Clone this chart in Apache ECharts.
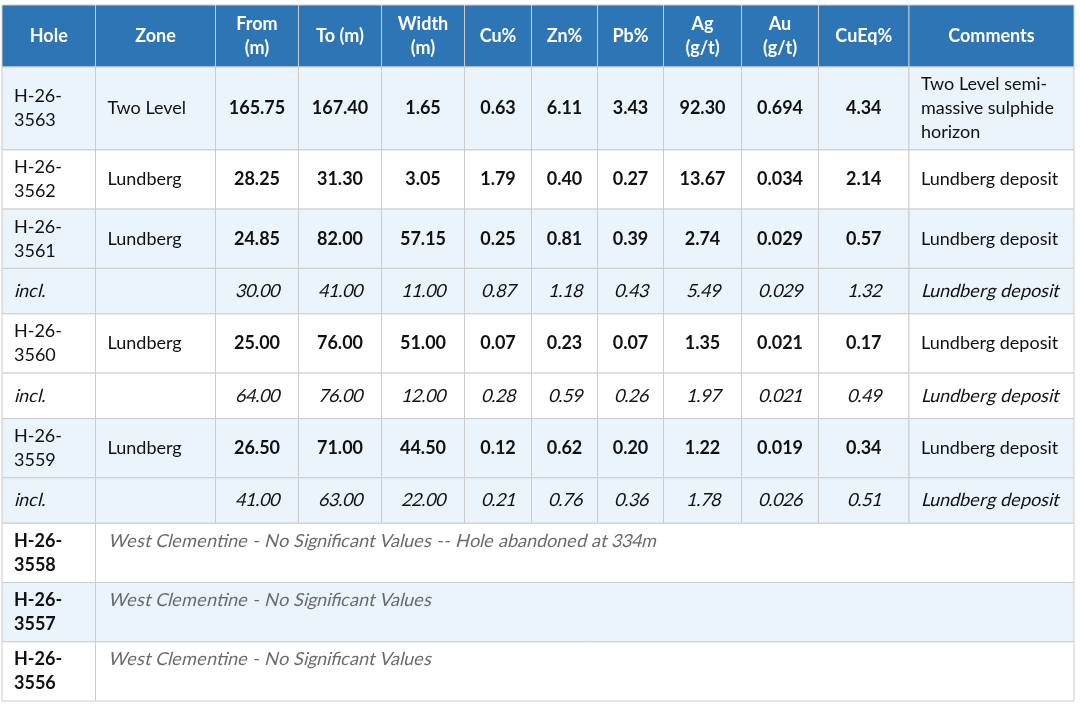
<!DOCTYPE html>
<html>
<head>
  <meta charset="utf-8" />
  <title>Drill results</title>
  <script src="https://cdn.jsdelivr.net/npm/echarts@6.0.0/dist/echarts.min.js"></script>
  <style>
    html, body { margin: 0; padding: 0; background: #fff; }
    /* upright face only, so italic text gets a slanted regular like the source */
    @font-face {
      font-family: 'LatoSlant';
      src: local('Lato Regular'), local('Lato-Regular'), local('Lato');
      font-weight: 400;
      font-style: normal;
    }
  </style>
</head>
<body>
<div id="main" style="width:1080px;height:709px;"></div>
<script type="text/javascript">
  // table content
  var headers = ['Hole', 'Zone', 'From\n(m)', 'To (m)', 'Width\n(m)', 'Cu%', 'Zn%', 'Pb%', 'Ag\n(g/t)', 'Au\n(g/t)', 'CuEq%', 'Comments'];

  var holeIds = ['H-26-3563', 'H-26-3562', 'H-26-3561', 'incl.', 'H-26-3560', 'incl.', 'H-26-3559', 'incl.'];
  var zones = ['Two Level', 'Lundberg', 'Lundberg', '', 'Lundberg', '', 'Lundberg', ''];
  var fromM = [165.75, 28.25, 24.85, 30.00, 25.00, 64.00, 26.50, 41.00];
  var toM = [167.40, 31.30, 82.00, 41.00, 76.00, 76.00, 71.00, 63.00];
  var widthM = [1.65, 3.05, 57.15, 11.00, 51.00, 12.00, 44.50, 22.00];
  var cu = [0.63, 1.79, 0.25, 0.87, 0.07, 0.28, 0.12, 0.21];
  var zn = [6.11, 0.40, 0.81, 1.18, 0.23, 0.59, 0.62, 0.76];
  var pb = [3.43, 0.27, 0.39, 0.43, 0.07, 0.26, 0.20, 0.36];
  var ag = [92.30, 13.67, 2.74, 5.49, 1.35, 1.97, 1.22, 1.78];
  var au = [0.694, 0.034, 0.029, 0.029, 0.021, 0.021, 0.019, 0.026];
  var cuEq = [4.34, 2.14, 0.57, 1.32, 0.17, 0.49, 0.34, 0.51];
  var comments = ['Two Level semi-\nmassive sulphide\nhorizon', 'Lundberg deposit', 'Lundberg deposit', 'Lundberg deposit',
    'Lundberg deposit', 'Lundberg deposit', 'Lundberg deposit', 'Lundberg deposit'];

  var nilHoles = ['H-26-3558', 'H-26-3557', 'H-26-3556'];
  var nilNotes = ['West Clementine - No Significant Values -- Hole abandoned at 334m',
    'West Clementine - No Significant Values',
    'West Clementine - No Significant Values'];

  // layout
  var colWidths = [93.5, 120, 83, 83, 83, 67, 66, 66, 78, 77, 90.5, 165];
  var headerHeight = 62;
  var heightByLines = { 1: 45.5, 2: 59.3, 3: 83 };
  var pad = 12;
  var FONT = 'Lato, "Open Sans", sans-serif';
  var FONT_IT = 'LatoSlant, Lato, "Open Sans", sans-serif';
  var BLUE = '#2e75b6';
  var SHADE = '#ebf3fb';

  var colEdges = [0];
  colWidths.forEach(function (w, i) { colEdges.push(colEdges[i] + w); });

  function splitHole(h) {
    return h.replace(/-(\d+)$/, '-\n$1');
  }
  function lines(s) {
    return s.split('\n').length;
  }

  var cells = [];
  var y = 0;

  function addCell(c0, c1, y0, y1, o) {
    o.x0 = colEdges[c0];
    o.x1 = colEdges[c1 + 1];
    o.y0 = y0;
    o.y1 = y1;
    cells.push(o);
  }

  // header row
  headers.forEach(function (h, i) {
    addCell(i, i, y, y + headerHeight, { text: h, fill: BLUE, color: '#fff', weight: 'bold', align: 'center' });
  });
  y += headerHeight;

  // intercept rows
  var group = -1;
  holeIds.forEach(function (h, r) {
    var incl = h === 'incl.';
    if (!incl) group++;
    var hole = incl ? h : splitHole(h);
    var n = Math.max(lines(hole), lines(comments[r]));
    var hgt = heightByLines[n];
    var fill = group % 2 === 0 ? SHADE : '#fff';
    var style = incl ? 'italic' : 'normal';
    var numWeight = incl ? 'normal' : 'bold';
    addCell(0, 0, y, y + hgt, { text: hole, fill: fill, color: '#111', italic: style, align: 'left' });
    addCell(1, 1, y, y + hgt, { text: zones[r], fill: fill, color: '#111', italic: style, align: 'left' });
    var nums = [fromM[r].toFixed(2), toM[r].toFixed(2), widthM[r].toFixed(2), cu[r].toFixed(2), zn[r].toFixed(2),
      pb[r].toFixed(2), ag[r].toFixed(2), au[r].toFixed(3), cuEq[r].toFixed(2)];
    nums.forEach(function (v, k) {
      addCell(k + 2, k + 2, y, y + hgt, { text: v, fill: fill, color: '#111', italic: style, weight: numWeight, align: 'center' });
    });
    addCell(11, 11, y, y + hgt, { text: comments[r], fill: fill, color: '#111', italic: style, align: 'left' });
    y += hgt;
  });

  // holes with no significant values
  nilHoles.forEach(function (h, r) {
    group++;
    var hole = splitHole(h);
    var hgt = heightByLines[lines(hole)];
    var fill = group % 2 === 0 ? SHADE : '#fff';
    addCell(0, 0, y, y + hgt, { text: hole, fill: fill, color: '#111', weight: 'bold', align: 'left' });
    addCell(1, 11, y, y + hgt, { text: nilNotes[r], fill: fill, color: '#6b6b6b', italic: 'italic', align: 'left', top: true });
    y += hgt;
  });

  var tableWidth = colEdges[colEdges.length - 1];
  var tableHeight = y;

  function draw() {
    var myChart = echarts.init(document.getElementById('main'));
    var option = {
      animation: false,
      grid: { left: 2, top: 5, right: 6, bottom: 8 },
      xAxis: { type: 'value', min: 0, max: tableWidth, show: false },
      yAxis: { type: 'value', min: 0, max: tableHeight, inverse: true, show: false },
      series: [{
        type: 'custom',
        silent: true,
        data: cells.map(function (c) { return [c.x0, c.x1, c.y0, c.y1]; }),
        renderItem: function (params, api) {
          var c = cells[params.dataIndex];
          var p0 = api.coord([api.value(0), api.value(2)]);
          var p1 = api.coord([api.value(1), api.value(3)]);
          var tx = c.align === 'center' ? (p0[0] + p1[0]) / 2 : p0[0] + pad;
          var ty = c.top ? p0[1] + 17.6 : (p0[1] + p1[1]) / 2;
          var it = c.italic === 'italic';
          return {
            type: 'group',
            children: [{
              type: 'rect',
              shape: { x: p0[0], y: p0[1], width: p1[0] - p0[0], height: p1[1] - p0[1] },
              style: { fill: c.fill, stroke: '#cccccc', lineWidth: 1 }
            }, {
              type: 'text',
              style: {
                text: c.text,
                x: tx,
                y: ty,
                fill: c.color,
                fontFamily: it ? FONT_IT : FONT,
                fontSize: 18,
                fontWeight: c.weight || 'normal',
                fontStyle: it ? 'italic' : 'normal',
                lineHeight: 24,
                align: c.align,
                verticalAlign: 'middle'
              }
            }]
          };
        }
      }]
    };
    myChart.setOption(option);
  }

  if (document.fonts && document.fonts.load) {
    document.fonts.load('italic 18px LatoSlant').then(draw, draw);
  } else {
    draw();
  }
</script>
</body>
</html>
